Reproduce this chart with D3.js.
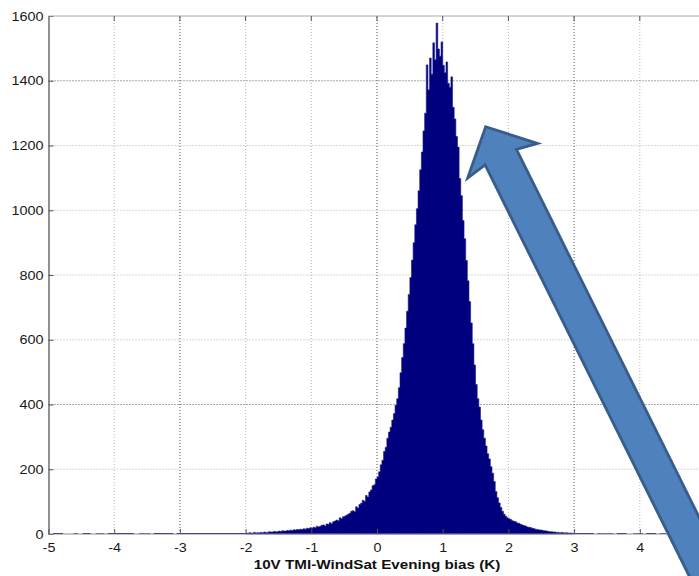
<!DOCTYPE html>
<html>
<head>
<meta charset="utf-8">
<script src="https://cdn.jsdelivr.net/npm/d3@7"></script>
<style>
  html, body { margin: 0; padding: 0; background: #fff; }
  svg { display: block; }
  text { font-family: "Liberation Sans", Arial, sans-serif; }
</style>
</head>
<body>
<svg id="chart" width="699" height="576"></svg>
<script>
// ---- data ----
const xTicks = [-5, -4, -3, -2, -1, 0, 1, 2, 3, 4];
const gridX = [-4, -3, -2, -1, 0, 1, 2, 3, 4, 5];
const yTicks = [0, 200, 400, 600, 800, 1000, 1200, 1400, 1600];
const xLabel = "10V TMI-WindSat Evening bias (K)";

// histogram: bins of 0.025 K starting at -2.0 K
const binStart = -2.0;
const binWidth = 0.025;
const counts = [
  3, 2, 4, 3, 3, 5, 3, 4, 4, 5,
  4, 6, 5, 5, 7, 6, 6, 8, 7, 7,
  9, 8, 10, 9, 9, 11, 10, 12, 11, 13,
  12, 14, 13, 15, 14, 16, 15, 18, 17, 19,
  18, 21, 19, 24, 22, 24, 27, 28, 25, 31,
  30, 35, 32, 38, 40, 43, 41, 50, 47, 53,
  55, 58, 61, 64, 70, 72, 69, 84, 80, 91,
  95, 104, 101, 119, 114, 130, 136, 149, 152, 170,
  176, 192, 214, 228, 255, 268, 296, 315, 330, 352,
  372, 398, 418, 452, 498, 545, 588, 636, 688, 740,
  792, 846, 900, 955, 1005, 1060, 1125, 1180, 1245, 1300,
  1449, 1372, 1470, 1420, 1517, 1465, 1578, 1498, 1476, 1520,
  1448, 1425, 1458, 1392, 1380, 1412, 1318, 1282, 1228, 1195,
  1098, 1045, 968, 912, 845, 782, 718, 652, 588, 522,
  462, 418, 392, 352, 322, 296, 272, 248, 232, 208,
  188, 162, 131, 112, 96, 82, 70, 61, 55, 50,
  47, 45, 41, 39, 38, 34, 33, 30, 28, 26,
  25, 22, 21, 20, 18, 17, 15, 14, 13, 12,
  12, 10, 10, 9, 8, 7, 7, 6, 6, 5,
  5, 4, 5, 4, 3, 4, 3, 3, 3, 2
];

// sparse far-tail counts (value ranges, count)
const tailFrom  = [-4.93, -4.62, -4.48, -4.28, -4.10, -3.62, -3.40, -3.05, 3.00, 3.35, 3.65, 3.90, 4.10, 4.30];
const tailTo    = [-4.78, -4.55, -4.36, -4.15, -3.70, -3.45, -3.10, -2.00, 3.30, 3.60, 3.80, 4.05, 4.25, 4.40];
const tailCount = [3, 2, 3, 2, 3, 2, 3, 3, 3, 2, 3, 2, 3, 2];

// annotation arrow (data coords of tip and tail)
const arrowTip = [1.654, 1258];
const arrowTail = [5.05, -130];

// ---- drawing ----
const svg = d3.select("#chart");
const W = 699, H = 576;
const x = d3.scaleLinear().domain([-5, 5]).range([48.5, 705.5]);
const y = d3.scaleLinear().domain([0, 1600]).range([534, 16]);

const fontSize = 12.5;
const stretch = 1.15;

// grid
const darkX = new Set([-3, 0, 3]);
const darkY = new Set([1400, 400]);
const grid = svg.append("g");
grid.selectAll("line.gx").data(gridX).enter().append("line")
  .attr("x1", d => x(d)).attr("x2", d => x(d))
  .attr("y1", y(0)).attr("y2", y(1600))
  .attr("stroke", d => darkX.has(d) ? "#555" : "#b8b8b8")
  .attr("stroke-width", 1)
  .attr("stroke-dasharray", "1,2");
grid.selectAll("line.gy").data(yTicks.filter(d => d > 0 && d < 1600)).enter().append("line")
  .attr("x1", x(-5)).attr("x2", W)
  .attr("y1", d => y(d)).attr("y2", d => y(d))
  .attr("stroke", d => darkY.has(d) ? "#555" : "#b0b0b0")
  .attr("stroke-width", 1)
  .attr("stroke-dasharray", "1,2");

// histogram as a single stepped area
const steps = counts.map((c, i) => ({ v: binStart + i * binWidth, c }));
steps.push({ v: binStart + counts.length * binWidth, c: counts[counts.length - 1] });
const area = d3.area()
  .x(d => x(d.v))
  .y0(y(0))
  .y1(d => y(d.c))
  .curve(d3.curveStepAfter);
svg.append("path").datum(steps)
  .attr("d", area)
  .attr("fill", "#00007e")
  .attr("stroke", "#1a1a86")
  .attr("stroke-width", 0.6);

const tails = tailFrom.map((f, i) => ({ x0: f, x1: tailTo[i], c: tailCount[i] }));
svg.append("g").selectAll("rect").data(tails).enter().append("rect")
  .attr("x", d => x(d.x0))
  .attr("width", d => x(d.x1) - x(d.x0))
  .attr("y", d => y(d.c))
  .attr("height", d => y(0) - y(d.c))
  .attr("fill", "#00007e");

// axes
const yAxis = d3.axisLeft(y).tickValues(yTicks).tickSizeInner(-5).tickSizeOuter(0)
  .tickPadding(5).tickFormat(d => String(d));
const gy = svg.append("g").attr("transform", `translate(${x(-5)},0)`).call(yAxis);
gy.select(".domain").attr("stroke", "#6e6e6e").attr("stroke-width", 1.5);
gy.selectAll(".tick line").attr("stroke", "#555");

const xAxis = d3.axisBottom(x).tickValues(xTicks).tickSizeInner(-5).tickSizeOuter(0)
  .tickPadding(9).tickFormat(d => String(d));
const gx = svg.append("g").attr("transform", `translate(0,${y(0)})`).call(xAxis);
gx.select(".domain").attr("stroke", "#8a8a8a").attr("stroke-width", 1).attr("d", `M${x(-5)},0H${W}`);
gx.selectAll(".tick line").attr("stroke", "#555");

// top border with ticks pointing down
svg.append("line").attr("x1", x(-5)).attr("x2", W).attr("y1", y(1600)).attr("y2", y(1600))
  .attr("stroke", "#a8a8a8").attr("stroke-width", 1);
svg.append("g").selectAll("line").data(xTicks.filter(d => d > -5)).enter().append("line")
  .attr("x1", d => x(d)).attr("x2", d => x(d)).attr("y1", y(1600)).attr("y2", y(1600) + 5)
  .attr("stroke", "#555");

[gx, gy].forEach(g => {
  g.selectAll("text")
    .attr("fill", "#1a1a1a")
    .style("font-size", fontSize + "px")
    .style("font-family", '"Liberation Sans", Arial, sans-serif')
    .each(function () {
      const len = this.getComputedTextLength();
      d3.select(this).attr("textLength", len * stretch).attr("lengthAdjust", "spacingAndGlyphs");
    });
});

// x label
const xl = svg.append("text")
  .attr("x", x(0)).attr("y", 569)
  .attr("text-anchor", "middle")
  .attr("fill", "#111")
  .style("font-size", "13px").style("font-weight", "bold")
  .text(xLabel);
xl.attr("textLength", xl.node().getComputedTextLength() * 1.17).attr("lengthAdjust", "spacingAndGlyphs");

// arrow annotation
const T = [x(arrowTip[0]), y(arrowTip[1])];
const E = [x(arrowTail[0]), y(arrowTail[1])];
const dx = E[0] - T[0], dy = E[1] - T[1];
const L = Math.hypot(dx, dy);
const u = [dx / L, dy / L];
const n = [u[1], -u[0]];
const headLen = 38, neck = 34, headHalf = 39, shaftHalf = 17.5, ext = L + 60;
const pt = (a, b) => [T[0] + a * u[0] + b * n[0], T[1] + a * u[1] + b * n[1]];
const poly = [pt(0, 0), pt(headLen, headHalf), pt(neck, shaftHalf), pt(ext, shaftHalf),
              pt(ext, -shaftHalf), pt(neck, -shaftHalf), pt(headLen, -headHalf)];
svg.append("polygon")
  .attr("points", poly.map(p => p.join(",")).join(" "))
  .attr("fill", "#4f81bd")
  .attr("stroke", "#385d8a")
  .attr("stroke-width", 2.8)
  .attr("stroke-linejoin", "miter");
</script>
</body>
</html>
